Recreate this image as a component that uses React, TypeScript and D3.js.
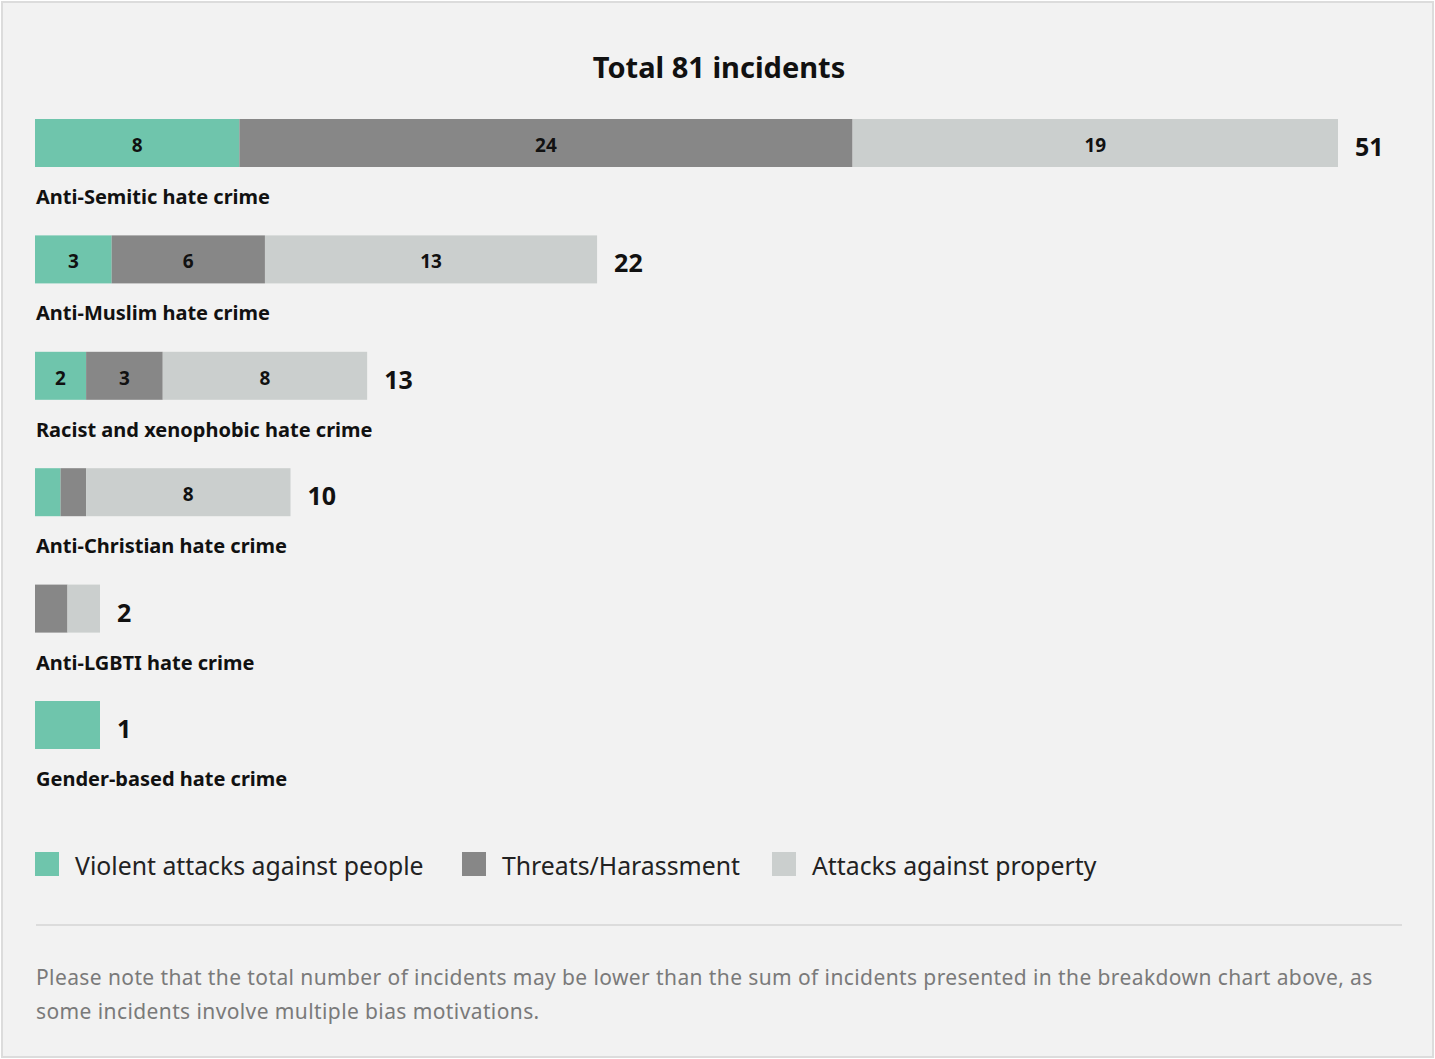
import React from "react";
import * as d3 from "d3";

const categories = [
  "Anti-Semitic hate crime",
  "Anti-Muslim hate crime",
  "Racist and xenophobic hate crime",
  "Anti-Christian hate crime",
  "Anti-LGBTI hate crime",
  "Gender-based hate crime",
];
const violent = [8, 3, 2, 1, 0, 1];
const threats = [24, 6, 3, 1, 1, 0];
const property = [19, 13, 8, 8, 1, 0];
const totals = [51, 22, 13, 10, 2, 1];
const seriesNames = ["Violent attacks against people", "Threats/Harassment", "Attacks against property"];
const seriesColors = ["#6fc5ac", "#878787", "#cbcfce"];
const title = "Total 81 incidents";
const footnote = [
  "Please note that the total number of incidents may be lower than the sum of incidents presented in the breakdown chart above, as",
  "some incidents involve multiple bias motivations.",
];

const W = 1435;
const H = 1059;
const FONT = "'Noto Sans', sans-serif";

export default function App() {
  const x = d3.scaleLinear().domain([0, 51]).range([35, 1338]);
  const y = d3.scaleLinear().domain([0, categories.length - 1]).range([119, 701]);
  const barH = 48;
  const minW = 65;
  const series = [violent, threats, property];

  const legendX = [35, 462, 772];

  return (
    <svg width={W} height={H} style={{ position: "absolute", left: 0, top: 0 }} fontFamily={FONT}>
      <rect x={2} y={2} width={W - 4} height={H - 4} fill="#f2f2f2" stroke="#dcdcdc" strokeWidth={2} />
      <text x={719} y={78} textAnchor="middle" fontSize={29} fontWeight="bold" fill="#111">
        {title}
      </text>
      {categories.map((cat, i) => {
        const total = totals[i];
        const w = Math.max(x(total) - x(0), minW);
        const sx = d3.scaleLinear().domain([0, total]).range([x(0), x(0) + w]);
        const stack = d3.cumsum(series.map((s) => s[i]));
        const top = y(i);
        return (
          <g key={cat}>
            {series.map((s, k) => {
              const v = s[i];
              if (!v) return null;
              const x0 = sx(stack[k] - v);
              const x1 = sx(stack[k]);
              return (
                <g key={k}>
                  <rect x={x0} y={top} width={x1 - x0} height={barH} fill={seriesColors[k]} />
                  {v >= 2 && (
                    <text
                      x={(x0 + x1) / 2}
                      y={top + barH / 2 + 9}
                      textAnchor="middle"
                      fontSize={19}
                      fontWeight="bold"
                      fill="#111"
                    >
                      {v}
                    </text>
                  )}
                </g>
              );
            })}
            <text x={x(0) + w + 17} y={top + barH / 2 + 13} fontSize={25} fontWeight="bold" fill="#111">
              {total}
            </text>
            <text x={36} y={top + 85} fontSize={20} fontWeight="bold" fill="#111">
              {cat}
            </text>
          </g>
        );
      })}
      {seriesNames.map((n, k) => (
        <g key={n}>
          <rect x={legendX[k]} y={852} width={24} height={24} fill={seriesColors[k]} />
          <text x={legendX[k] + 40} y={875} fontSize={24.8} fill="#222">
            {n}
          </text>
        </g>
      ))}
      <line x1={36} x2={1402} y1={925} y2={925} stroke="#dcdcdc" strokeWidth={2} />
      {footnote.map((t, j) => (
        <text key={j} x={36} y={985 + j * 34} fontSize={21} letterSpacing={0.4} fill="#7a7a7a">
          {t}
        </text>
      ))}
    </svg>
  );
}
